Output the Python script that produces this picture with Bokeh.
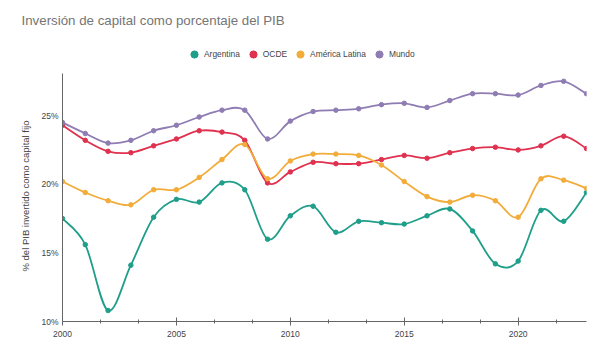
from bokeh.plotting import figure
from bokeh.models import (Title, Legend, LegendItem, SingleIntervalTicker, FixedTicker,
                          PrintfTickFormatter, ColumnDataSource, Range1d)
from bokeh.embed import file_html
from bokeh.resources import INLINE

# ---------------- data ----------------
years = list(range(2000, 2024))
argentina = [17.5, 15.6, 10.8, 14.1, 17.6, 18.9, 18.7, 20.1, 19.6, 16.0, 17.7, 18.4,
             16.5, 17.3, 17.2, 17.1, 17.7, 18.2, 16.6, 14.2, 14.4, 18.1, 17.3, 19.4]
ocde = [24.3, 23.2, 22.4, 22.3, 22.8, 23.3, 23.9, 23.8, 23.2, 20.1, 20.9, 21.6,
        21.5, 21.5, 21.8, 22.1, 21.9, 22.3, 22.6, 22.7, 22.5, 22.8, 23.5, 22.6]
america_latina = [20.2, 19.4, 18.8, 18.5, 19.6, 19.6, 20.5, 21.8, 22.9, 20.4, 21.7, 22.2,
                  22.2, 22.1, 21.4, 20.2, 19.1, 18.7, 19.2, 18.8, 17.6, 20.4, 20.3, 19.7]
mundo = [24.5, 23.7, 23.0, 23.2, 23.9, 24.3, 24.9, 25.4, 25.4, 23.3, 24.6, 25.3,
         25.4, 25.5, 25.8, 25.9, 25.6, 26.1, 26.6, 26.6, 26.5, 27.2, 27.5, 26.6]
series_names = ["Argentina", "OCDE", "América Latina", "Mundo"]
y_ticks = [10, 15, 20, 25]
y_axis_extent = (10, 28.07)

title_text = "Inversión de capital como porcentaje del PIB"
y_label = "% del PIB invertido como capital fijo"

colors = ["#1f9e89", "#e0314f", "#f2ac3a", "#8e7cb3"]
FONT = "Liberation Sans"


def catmull_rom(xs, ys):
    """Cubic Bezier control points (Catmull-Rom) for a smooth curve through the data."""
    n = len(xs)
    out = dict(x0=[], y0=[], x1=[], y1=[], cx0=[], cy0=[], cx1=[], cy1=[])
    for i in range(n - 1):
        x0, y0 = xs[i], ys[i]
        x1, y1 = xs[i + 1], ys[i + 1]
        xp, yp = (xs[i - 1], ys[i - 1]) if i > 0 else (x0, y0)
        xn, yn = (xs[i + 2], ys[i + 2]) if i + 2 < n else (x1, y1)
        out["x0"].append(x0); out["y0"].append(y0)
        out["x1"].append(x1); out["y1"].append(y1)
        out["cx0"].append(x0 + (x1 - xp) / 6.0); out["cy0"].append(y0 + (y1 - yp) / 6.0)
        out["cx1"].append(x1 - (xn - x0) / 6.0); out["cy1"].append(y1 - (yn - y0) / 6.0)
    return out


FRAME_H = 279
PX_PER_PCT = 248 / (y_axis_extent[1] - y_axis_extent[0])

p = figure(frame_width=524, frame_height=FRAME_H,
           min_border_left=62, min_border_right=20, min_border_top=0, min_border_bottom=38,
           x_range=Range1d(2000, 2023),
           y_range=Range1d(y_axis_extent[0], y_axis_extent[0] + FRAME_H / PX_PER_PCT),
           output_backend="svg", toolbar_location=None, title=None)
p.outline_line_color = None
p.xgrid.visible = False
p.ygrid.visible = False
p.background_fill_color = "white"
p.border_fill_color = "white"

items = []
for name, vals, col in zip(series_names, [argentina, ocde, america_latina, mundo], colors):
    seg = ColumnDataSource(catmull_rom(years, vals))
    p.bezier(x0="x0", y0="y0", x1="x1", y1="y1", cx0="cx0", cy0="cy0", cx1="cx1", cy1="cy1",
             source=seg, line_color=col, line_width=1.8, line_cap="round")
    pts = ColumnDataSource(dict(x=years, y=vals))
    r = p.scatter("x", "y", source=pts, size=4.5, color=col)
    items.append(LegendItem(label=name, renderers=[r]))

legend = Legend(items=items, orientation="horizontal", location=(123, 258),
                glyph_width=18, glyph_height=18, label_height=18, label_standoff=1, spacing=4,
                padding=0, margin=0, border_line_alpha=0, background_fill_alpha=0,
                label_text_font=FONT, label_text_font_size="8.4px", label_text_color="#444444")
p.add_layout(legend)

p.add_layout(Title(text=title_text, align="left", offset=-41, standoff=25, vertical_align="top",
                   text_font=FONT, text_font_size="13.3px", text_font_style="normal",
                   text_color="#757575"), "above")

# axes
xa = p.xaxis[0]
xa.ticker = SingleIntervalTicker(interval=5, num_minor_ticks=3)
xa.axis_line_color = "#666666"
xa.major_tick_line_color = "#666666"
xa.minor_tick_line_color = "#666666"
xa.major_tick_in = 4
xa.major_tick_out = 4
xa.minor_tick_in = 2
xa.minor_tick_out = 2
xa.major_label_standoff = 5
xa.major_label_text_font = FONT
xa.major_label_text_font_size = "8.5px"
xa.major_label_text_color = "#444444"

ya = p.yaxis[0]
ya.ticker = FixedTicker(ticks=y_ticks)
ya.bounds = y_axis_extent
ya.formatter = PrintfTickFormatter(format="%d%%")
ya.axis_line_color = "#666666"
ya.major_tick_line_color = None
ya.minor_tick_line_color = None
ya.major_tick_in = 0
ya.major_tick_out = 0
ya.major_label_standoff = 4
ya.major_label_text_font = FONT
ya.major_label_text_font_size = "8.5px"
ya.major_label_text_color = "#444444"

# y-axis title, placed along the axis extent rather than the whole frame
p.add_layout(Title(text=y_label, align="left", offset=50, standoff=16, vertical_align="bottom",
                   text_font=FONT, text_font_size="9.5px", text_font_style="normal",
                   text_color="#444444"), "left")

open("out.html", "w").write(file_html(p, INLINE))
